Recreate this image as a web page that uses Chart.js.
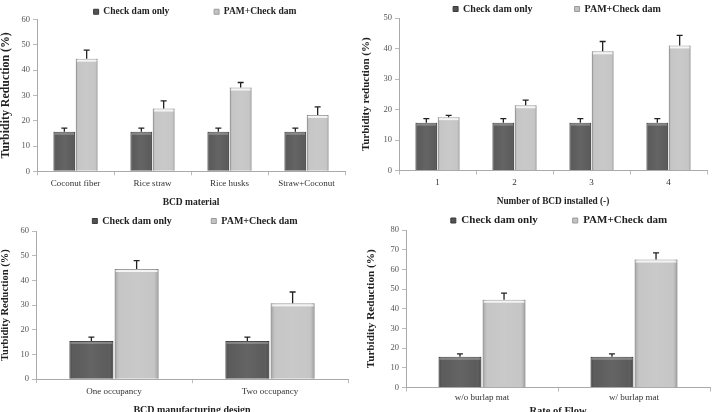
<!DOCTYPE html>
<html>
<head>
<meta charset="utf-8">
<script src="https://cdn.jsdelivr.net/npm/chart.js@4.4.0/dist/chart.umd.min.js"></script>
<style>
    body { margin: 0; background: #fff; width: 716px; height: 412px; overflow: hidden; position: relative; }
    .panel { position: absolute; }
</style>
</head>
<body>
<div class="panel" style="left:0;top:0;width:356px;height:210px"><canvas id="materialChart"></canvas></div>
<div class="panel" style="left:360px;top:0;width:356px;height:210px"><canvas id="numberChart"></canvas></div>
<div class="panel" style="left:0;top:208px;width:356px;height:216px"><canvas id="designChart"></canvas></div>
<div class="panel" style="left:360px;top:208px;width:356px;height:218px"><canvas id="flowChart"></canvas></div>
<script>
const legendLabels = ["Check dam only", "PAM+Check dam"];

const materialCategories = ["Coconut fiber", "Rice straw", "Rice husks", "Straw+Coconut"];
const materialCheckDam = [15.6, 15.6, 15.6, 15.6];
const materialCheckDamErr = [1.5, 1.5, 1.5, 1.5];
const materialPam = [44.5, 24.8, 33.1, 22.3];
const materialPamErr = [3.4, 3.0, 2.0, 3.2];

const numberCategories = ["1", "2", "3", "4"];
const numberCheckDam = [15.7, 15.7, 15.7, 15.7];
const numberCheckDamErr = [1.3, 1.3, 1.3, 1.3];
const numberPam = [17.5, 21.4, 39.1, 41.0];
const numberPamErr = [0.6, 1.7, 3.2, 3.3];

const designCategories = ["One occupancy", "Two occupancy"];
const designCheckDam = [15.5, 15.5];
const designCheckDamErr = [1.5, 1.5];
const designPam = [44.6, 30.7];
const designPamErr = [3.4, 4.6];

const flowCategories = ["w/o burlap mat", "w/ burlap mat"];
const flowCheckDam = [15.6, 15.6];
const flowCheckDamErr = [1.5, 1.5];
const flowPam = [44.6, 65.0];
const flowPamErr = [3.4, 3.4];

const serif = "'Liberation Serif', 'Times New Roman', serif";

// shading + error bars drawn on top of the plain bars
const barDecor = {
    id: "barDecor",
    afterDatasetsDraw(chart) {
        const ctx = chart.ctx;
        chart.data.datasets.forEach((ds, di) => {
            const meta = chart.getDatasetMeta(di);
            meta.data.forEach((bar, i) => {
                const p = bar.getProps(["x", "y", "base", "width"], true);
                const left = p.x - p.width / 2;
                const g = ctx.createLinearGradient(left, 0, left + p.width, 0);
                g.addColorStop(0, "rgba(0,0,0,0.22)");
                g.addColorStop(0.12, "rgba(255,255,255,0.05)");
                g.addColorStop(0.5, "rgba(255,255,255,0.10)");
                g.addColorStop(0.88, "rgba(255,255,255,0.05)");
                g.addColorStop(1, "rgba(0,0,0,0.25)");
                ctx.save();
                ctx.fillStyle = g;
                ctx.fillRect(left, p.y, p.width, p.base - p.y);
                ctx.fillStyle = di === 1 ? "rgba(255,255,255,0.8)" : "rgba(255,255,255,0.25)";
                ctx.fillRect(left + 1, p.y + 1, p.width - 2, 2);

                const err = ds.errors[i];
                const top = chart.scales.y.getPixelForValue(ds.data[i] + err);
                ctx.strokeStyle = "#222";
                ctx.lineWidth = 1.3;
                ctx.beginPath();
                ctx.moveTo(p.x, p.y);
                ctx.lineTo(p.x, top);
                ctx.moveTo(p.x - 3, top);
                ctx.lineTo(p.x + 3, top);
                ctx.stroke();
                ctx.restore();
            });
        });
    }
};

// the legend keeps a fixed 10px below itself; trim it and nudge it sideways
function legendTweak(trim, shift) {
    return {
        id: "legendTweak",
        afterInit(chart) {
            const legend = chart.legend;
            const fit = legend.fit;
            legend.fit = function () {
                fit.call(this);
                this.height -= trim;
            };
        },
        afterLayout(chart) {
            chart.legend.left += shift;
            chart.legend.right += shift;
        }
    };
}

function makeChart(canvasId, categories, darkValues, darkErr, lightValues, lightErr, yMax, yTitle, xTitle, look) {
    const ctx = document.getElementById(canvasId).getContext("2d");
    new Chart(ctx, {
        type: "bar",
        data: {
            labels: categories,
            datasets: [
                {
                    label: legendLabels[0],
                    data: darkValues,
                    errors: darkErr,
                    backgroundColor: "#535353",
                    borderColor: "#3a3a3a",
                    borderWidth: 1,
                    barPercentage: 0.97,
                    categoryPercentage: 0.58
                },
                {
                    label: legendLabels[1],
                    data: lightValues,
                    errors: lightErr,
                    backgroundColor: "#c3c3c3",
                    borderColor: "#9a9a9a",
                    borderWidth: 1,
                    barPercentage: 0.97,
                    categoryPercentage: 0.58
                }
            ]
        },
        options: {
            responsive: true,
            maintainAspectRatio: false,
            animation: false,
            layout: { padding: look.pad },
            plugins: {
                tooltip: { enabled: false },
                legend: {
                    position: "top",
                    fullSize: false,
                    labels: {
                        boxWidth: 5,
                        boxHeight: 5,
                        padding: 2,
                        color: "#222",
                        font: { family: serif, size: look.legendSize, weight: "bold" },
                        generateLabels(chart) {
                            return chart.data.datasets.map((ds, i) => ({
                                text: i === 0 ? ds.label + " ".repeat(look.gap) : ds.label,
                                fillStyle: ds.backgroundColor,
                                strokeStyle: ds.borderColor,
                                lineWidth: 1,
                                datasetIndex: i,
                                fontColor: "#222"
                            }));
                        }
                    }
                }
            },
            scales: {
                x: {
                    grid: { display: true, drawOnChartArea: false, tickLength: 4, color: "#bbb", offset: true },
                    border: { color: "#aaa" },
                    ticks: { color: "#333", font: { family: serif, size: 9 }, padding: look.xTickPad },
                    title: {
                        display: true, text: xTitle, color: "#222",
                        font: { family: serif, size: look.xTitleSize, weight: "bold" },
                        padding: { top: look.xTitleTop, bottom: 0 }
                    }
                },
                y: {
                    min: 0,
                    max: yMax,
                    ticks: { stepSize: 10, color: "#555", font: { family: serif, size: 8.5 }, padding: 3 },
                    grid: { display: true, drawOnChartArea: false, tickLength: 4, color: "#bbb" },
                    border: { color: "#aaa" },
                    title: {
                        display: true, text: yTitle, color: "#222",
                        font: { family: serif, size: look.yTitleSize, weight: "bold", lineHeight: 1 },
                        padding: { top: look.yTitleTop, bottom: 0 }
                    },
                    afterFit(scale) {
                        scale.width = look.yWidth;
                        scale.paddingTop = 0;
                    }
                }
            }
        },
        plugins: [barDecor, legendTweak(look.trim, look.shift)]
    });
}

makeChart("materialChart", materialCategories, materialCheckDam, materialCheckDamErr, materialPam, materialPamErr,
    60, "Turbidity Reduction (%)", "BCD material",
    { yWidth: 37, legendSize: 9.5, gap: 18, yTitleSize: 11.9, yTitleTop: 0, xTitleSize: 9.5, xTitleTop: 4.5, xTickPad: 3,
      trim: 7, shift: 4, pad: { left: 0, right: 11, top: 5, bottom: 2 } });
makeChart("numberChart", numberCategories, numberCheckDam, numberCheckDamErr, numberPam, numberPamErr,
    50, "Turbidity reduction (%)", "Number of BCD installed (-)",
    { yWidth: 39, legendSize: 10, gap: 16, yTitleSize: 11, yTitleTop: 1, xTitleSize: 9.3, xTitleTop: 4.5, xTickPad: 3,
      trim: 6, shift: 4, pad: { left: 0, right: 9, top: 2, bottom: 3 } });
makeChart("designChart", designCategories, designCheckDam, designCheckDamErr, designPam, designPamErr,
    60, "Turbidity Reduction (%)", "BCD manufacturing design",
    { yWidth: 36, legendSize: 10, gap: 15, yTitleSize: 10.5, yTitleTop: 0, xTitleSize: 10, xTitleTop: 4, xTickPad: 3,
      trim: 5, shift: 3, pad: { left: 0, right: 8, top: 6, bottom: 8 } });
makeChart("flowChart", flowCategories, flowCheckDam, flowCheckDamErr, flowPam, flowPamErr,
    80, "Turbidity Reduction (%)", "Rate of Flow",
    { yWidth: 46, legendSize: 11, gap: 12, yTitleSize: 11.2, yTitleTop: 6, xTitleSize: 10.5, xTitleTop: 0.5, xTickPad: 1,
      trim: 6, shift: 1, pad: { left: 0, right: 6, top: 5, bottom: 8.5 } });
</script>
</body>
</html>
